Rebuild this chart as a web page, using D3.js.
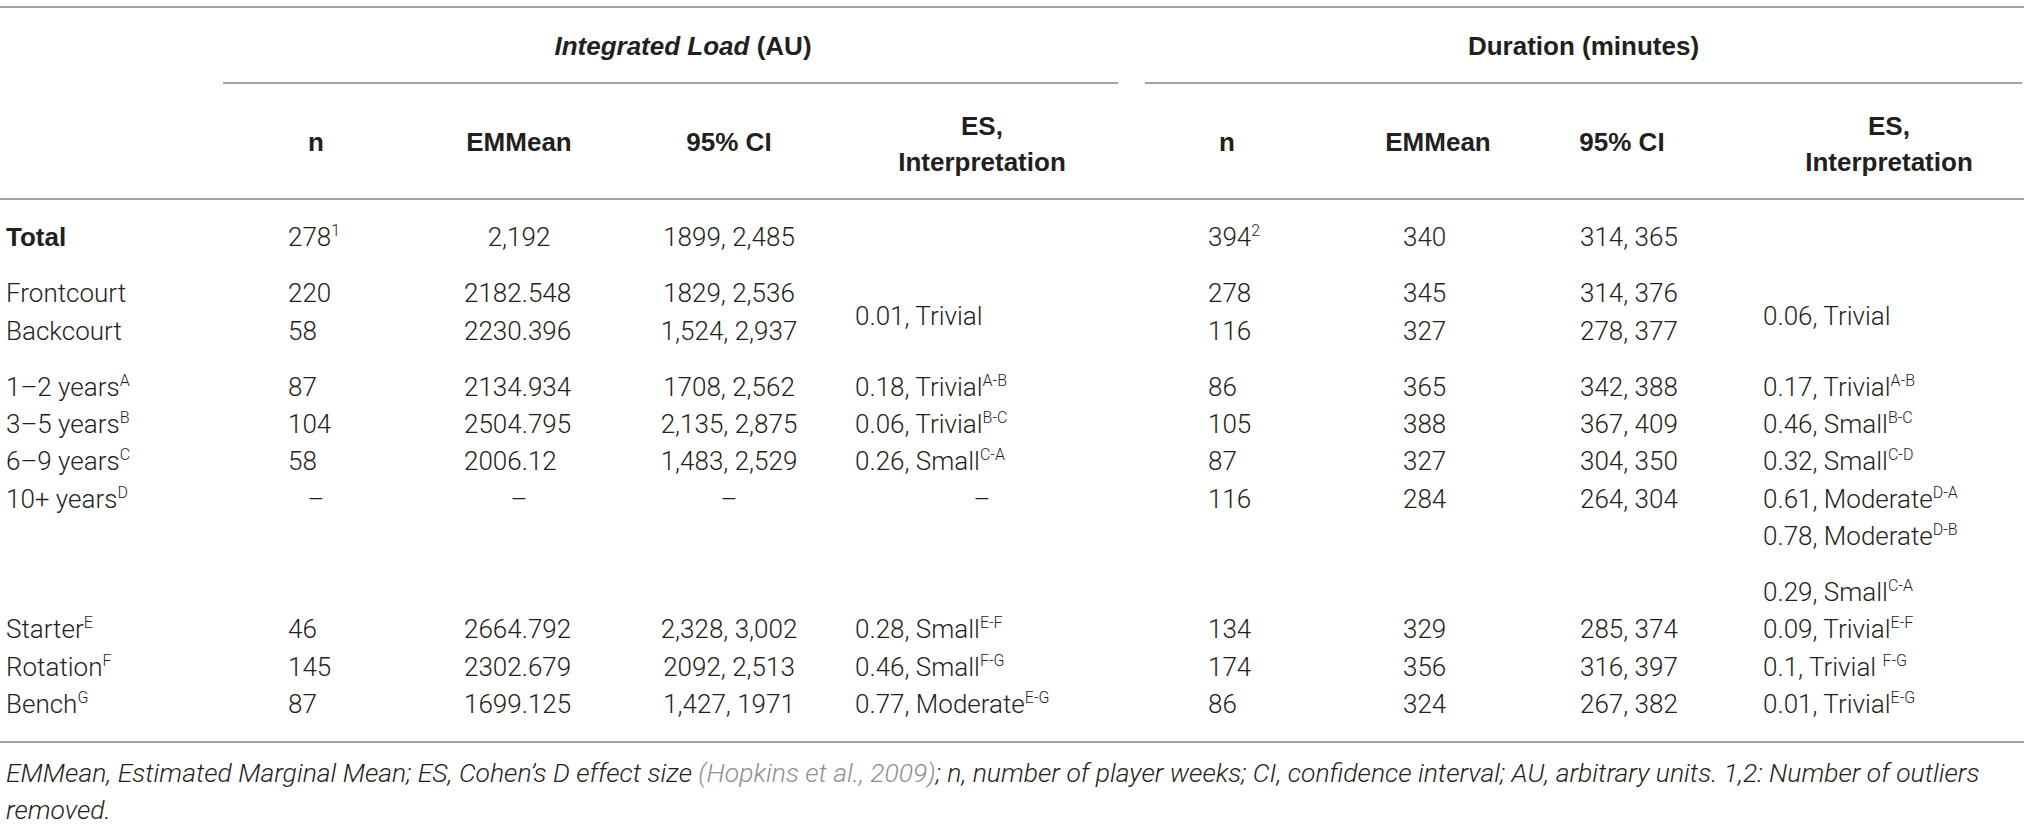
<!DOCTYPE html>
<meta charset="utf-8">
<script src="https://cdn.jsdelivr.net/npm/d3@7"></script>
<style>
body {margin: 0; background: #fff;}
text {fill: #231f20;}
.cell {font-family: Roboto, "Liberation Sans", Arial, sans-serif; font-size: 26px; font-weight: 300;}
.head {font-family: "Liberation Sans", Arial, sans-serif; font-size: 26px; font-weight: 700;}
.rule {stroke: #a3a3a3; stroke-width: 2;}
.note {font-family: Roboto, "Liberation Sans", Arial, sans-serif; font-size: 26.5px; font-weight: 300; font-style: italic;}
.cite {fill: #8f8f8f;}
</style>
<div id="vis"></div>
<script>

// table content
const rowLabels = ["Total", "Frontcourt", "Backcourt", "1–2 years", "3–5 years", "6–9 years", "10+ years", "", "", "Starter", "Rotation", "Bench"];
const rowSup    = ["", "", "", "A", "B", "C", "D", "", "", "E", "F", "G"];
const rowGroup  = [0, 1, 1, 2, 2, 2, 2, 2, 3, 3, 3, 3];

const loadN    = ["278", "220", "58", "87", "104", "58", "–", "", "", "46", "145", "87"];
const loadMean = ["2,192", "2182.548", "2230.396", "2134.934", "2504.795", "2006.12", "–", "", "", "2664.792", "2302.679", "1699.125"];
const loadCI   = ["1899, 2,485", "1829, 2,536", "1,524, 2,937", "1708, 2,562", "2,135, 2,875", "1,483, 2,529", "–", "", "", "2,328, 3,002", "2092, 2,513", "1,427, 1971"];
const loadES    = ["", "", "", "0.18, Trivial", "0.06, Trivial", "0.26, Small", "–", "", "", "0.28, Small", "0.46, Small", "0.77, Moderate"];
const loadESSup = ["", "", "", "A-B", "B-C", "C-A", "", "", "", "E-F", "F-G", "E-G"];

const durN    = ["394", "278", "116", "86", "105", "87", "116", "", "", "134", "174", "86"];
const durMean = ["340", "345", "327", "365", "388", "327", "284", "", "", "329", "356", "324"];
const durCI   = ["314, 365", "314, 376", "278, 377", "342, 388", "367, 409", "304, 350", "264, 304", "", "", "285, 374", "316, 397", "267, 382"];
const durES    = ["", "", "", "0.17, Trivial", "0.46, Small", "0.32, Small", "0.61, Moderate", "0.78, Moderate", "0.29, Small", "0.09, Trivial", "0.1, Trivial ", "0.01, Trivial"];
const durESSup = ["", "", "", "A-B", "B-C", "C-D", "D-A", "D-B", "C-A", "E-F", "F-G", "E-G"];

const totalSup = ["1", "2"];                       // outlier notes on n of Total
const positionES = ["0.01, Trivial", "0.06, Trivial"]; // shared by Frontcourt/Backcourt

const groupTitles = ["Integrated Load", "Duration (minutes)"];
const colHeads = ["n", "EMMean", "95% CI"];

const w = 2032, h = 824;

let svg = d3.select("#vis").append("svg")
    .attr("width", w)
    .attr("height", h);

// row position: index plus half a line per group break
const slot = rowLabels.map((d, i) => i + 0.5 * rowGroup[i]);
let y = d3.scaleLinear()
    .domain([0, d3.max(slot)])
    .range([237, 704]);

// column anchors
const cols = ["lN", "lMean", "lCI", "lES", "rN", "rMean", "rCI", "rES"];
let xStart = d3.scaleOrdinal().domain(cols).range([288, 464, 651, 855, 1208, 1403, 1580, 1763]);
let xMid   = d3.scaleOrdinal().domain(cols).range([316, 519, 729, 982, 1227, 1438, 1622, 1889]);

// rules
const fullRules = [7, 199, 742];
svg.selectAll(".full").data(fullRules).enter().append("line")
    .attr("class", "rule")
    .attr("x1", 0).attr("x2", 2024)
    .attr("y1", d => d).attr("y2", d => d);

const groupSpan = [[223, 1118], [1145, 2022]];
svg.selectAll(".grp").data(groupSpan).enter().append("line")
    .attr("class", "rule")
    .attr("x1", d => d[0]).attr("x2", d => d[1])
    .attr("y1", 83).attr("y2", 83);

// group titles
let t1 = svg.append("text").attr("class", "head")
    .attr("x", 683).attr("y", 46).attr("dy", "0.35em")
    .attr("text-anchor", "middle");
t1.append("tspan").style("font-style", "italic").text(groupTitles[0]);
t1.append("tspan").text(" (AU)");

svg.append("text").attr("class", "head")
    .attr("x", (groupSpan[1][0] + groupSpan[1][1]) / 2).attr("y", 46).attr("dy", "0.35em")
    .attr("text-anchor", "middle")
    .text(groupTitles[1]);

// column headers
["l", "r"].forEach(side => {
  colHeads.forEach((c, j) => {
    svg.append("text").attr("class", "head")
      .attr("x", xMid(side + ["N", "Mean", "CI"][j]))
      .attr("y", 142).attr("dy", "0.35em")
      .attr("text-anchor", "middle")
      .text(c);
  });
  svg.append("text").attr("class", "head")
    .attr("x", xMid(side + "ES")).attr("y", 126).attr("dy", "0.35em")
    .attr("text-anchor", "middle").text("ES,");
  svg.append("text").attr("class", "head")
    .attr("x", xMid(side + "ES")).attr("y", 162).attr("dy", "0.35em")
    .attr("text-anchor", "middle").text("Interpretation");
});

// text cell with optional superscript
function cell(x, yy, txt, sup, anchor, cls) {
  if (!txt) return;
  let t = svg.append("text").attr("class", cls || "cell")
      .attr("x", x).attr("y", yy).attr("dy", "0.35em")
      .attr("text-anchor", anchor);
  t.append("tspan").text(txt);
  if (sup) t.append("tspan").attr("dy", -10).style("font-size", "16px").style("font-weight", 300)
      .style("font-family", "Roboto, sans-serif").text(sup);
}

// place a value: dashes sit centred, the rest on the column anchor
function put(col, i, txt, sup) {
  if (txt === "–") cell(xMid(col), y(slot[i]), txt, "", "middle");
  else if (col === "lCI") cell(xMid(col), y(slot[i]), txt, sup, "middle");
  else cell(xStart(col), y(slot[i]), txt, sup, "start");
}

rowLabels.forEach((lab, i) => {
  if (lab) cell(6, y(slot[i]), lab, rowSup[i], "start", i === 0 ? "head" : "cell");
  put("lN", i, loadN[i], i === 0 ? totalSup[0] : "");
  if (i === 0) cell(xMid("lMean"), y(slot[i]), loadMean[i], "", "middle");
  else put("lMean", i, loadMean[i], "");
  put("lCI", i, loadCI[i], "");
  put("lES", i, loadES[i], loadESSup[i]);
  put("rN", i, durN[i], i === 0 ? totalSup[1] : "");
  put("rMean", i, durMean[i], "");
  put("rCI", i, durCI[i], "");
  put("rES", i, durES[i], durESSup[i]);
});

// merged effect-size cells for position
const midPos = (y(slot[1]) + y(slot[2])) / 2 + 4;
cell(xStart("lES"), midPos, positionES[0], "", "start");
cell(xStart("rES"), midPos, positionES[1], "", "start");

// footnote
let n1 = svg.append("text").attr("class", "note").attr("x", 6).attr("y", 773).attr("dy", "0.35em");
n1.append("tspan").text("EMMean, Estimated Marginal Mean; ES, Cohen’s D effect size ");
n1.append("tspan").attr("class", "cite").text("(Hopkins et al., 2009)");
n1.append("tspan").text("; n, number of player weeks; CI, confidence interval; AU, arbitrary units. 1,2: Number of outliers");
svg.append("text").attr("class", "note").attr("x", 6).attr("y", 810).attr("dy", "0.35em").text("removed.");

</script>
